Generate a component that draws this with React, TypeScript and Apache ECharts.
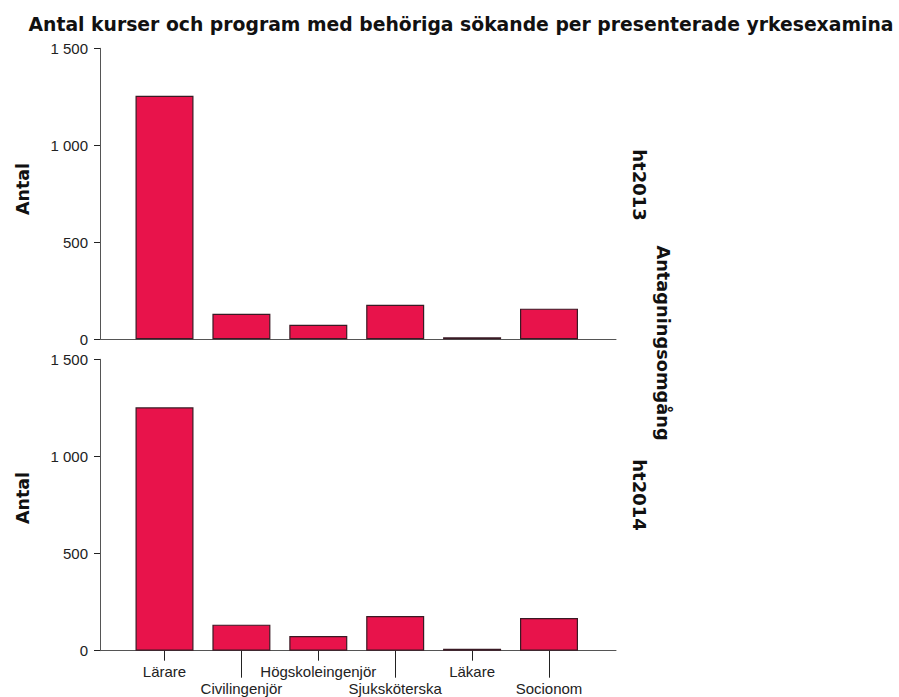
import React, { useEffect, useRef } from "react";
import * as echarts from "echarts";

const titleText = "Antal kurser och program med behöriga sökande per presenterade yrkesexamina";
const categories = ["Lärare", "Civilingenjör", "Högskoleingenjör", "Sjuksköterska", "Läkare", "Socionom"];
const valuesHt2013 = [1255, 132, 75, 178, 10, 158];
const valuesHt2014 = [1253, 134, 76, 179, 10, 168];
const panelNames = ["ht2013", "ht2014"];
const yAxisName = "Antal";
const facetName = "Antagningsomgång";
const yMin = 0;
const yMax = 1500;
const yInterval = 500;

const W = 899;
const H = 697;
const LINE_LEFT = 100;
const LINE_RIGHT_X = 616;
const BAR_LEFT = 164.5;
const BAR_RIGHT_X = 549;
const PANELS = [
  { top: 48.3, height: 291 },
  { top: 359.3, height: 291.4 },
];

const BAR_COLOR = "#e8134b";
const BAR_BORDER = "#3a1a24";
const AXIS_COLOR = "#555555";
const FONT = "'Liberation Sans', Arial, sans-serif";
const BOLD_FONT = "'DejaVu Sans', sans-serif";

function fmt(v: number): string {
  const s = String(Math.round(v));
  return s.replace(/\B(?=(\d{3})+(?!\d))/g, " ");
}

export default function App() {
  const ref = useRef<HTMLDivElement>(null);
  useEffect(() => {
    if (!ref.current) return;
    const chart = echarts.init(ref.current, null, { renderer: "svg" });
    const grids: any[] = [];
    const xAxes: any[] = [];
    const yAxes: any[] = [];
    const series: any[] = [];
    const seriesData = [valuesHt2013, valuesHt2014];

    PANELS.forEach((p, i) => {
      const isBottom = i === PANELS.length - 1;
      const lineGridIdx = grids.length;
      grids.push({ left: LINE_LEFT, right: W - LINE_RIGHT_X, top: p.top, height: p.height, containLabel: false });
      const barGridIdx = grids.length;
      grids.push({ left: BAR_LEFT, right: W - BAR_RIGHT_X, top: p.top, height: p.height, containLabel: false });

      xAxes.push({
        gridIndex: lineGridIdx,
        type: "value",
        min: 0,
        max: 1,
        axisLine: { show: true, onZero: false, lineStyle: { color: AXIS_COLOR, width: 1 } },
        axisTick: { show: false },
        axisLabel: { show: false },
        splitLine: { show: false },
      });
      yAxes.push({
        gridIndex: lineGridIdx,
        type: "value",
        min: yMin,
        max: yMax,
        interval: yInterval,
        axisLine: { show: true, lineStyle: { color: AXIS_COLOR, width: 1 } },
        axisTick: { show: true, length: 6, lineStyle: { color: "#222", width: 1 } },
        axisLabel: {
          show: true,
          margin: 12,
          color: "#222",
          fontFamily: FONT,
          fontSize: 15,
          formatter: (v: number) => fmt(v),
        },
        splitLine: { show: false },
      });

      const yIdx = yAxes.length;
      yAxes.push({
        gridIndex: barGridIdx,
        type: "value",
        min: yMin,
        max: yMax,
        interval: yInterval,
        show: false,
      });
      const xIdx = xAxes.length;
      if (!isBottom) {
        xAxes.push({
          gridIndex: barGridIdx,
          type: "category",
          data: categories,
          boundaryGap: false,
          axisLine: { show: false },
          axisTick: { show: false },
          axisLabel: { show: false },
          splitLine: { show: false },
        });
      } else {
        xAxes.push({
          gridIndex: barGridIdx,
          type: "category",
          data: categories,
          boundaryGap: false,
          position: "bottom",
          axisLine: { show: false },
          axisTick: {
            show: true,
            length: 10,
            interval: (idx: number) => idx % 2 === 0,
            lineStyle: { color: "#222", width: 1 },
          },
          axisLabel: {
            show: true,
            interval: (idx: number) => idx % 2 === 0,
            margin: 13,
            color: "#222",
            fontFamily: FONT,
            fontSize: 15,
          },
          splitLine: { show: false },
        });
        xAxes.push({
          gridIndex: barGridIdx,
          type: "category",
          data: categories,
          boundaryGap: false,
          position: "bottom",
          axisLine: { show: false },
          axisTick: {
            show: true,
            length: 27,
            interval: (idx: number) => idx % 2 === 1,
            lineStyle: { color: "#222", width: 1 },
          },
          axisLabel: {
            show: true,
            interval: (idx: number) => idx % 2 === 1,
            margin: 30,
            color: "#222",
            fontFamily: FONT,
            fontSize: 15,
          },
          splitLine: { show: false },
        });
      }
      series.push({
        type: "bar",
        name: panelNames[i],
        xAxisIndex: xIdx,
        yAxisIndex: yIdx,
        data: seriesData[i],
        barWidth: 58,
        itemStyle: { color: BAR_COLOR, borderColor: BAR_BORDER, borderWidth: 1.2 },
        z: 3,
      });
    });

    const boldText = (text: string, x: number, y: number, rotation: number, size: number) => ({
      type: "text",
      x,
      y,
      rotation,
      style: {
        text,
        align: "center",
        verticalAlign: "middle",
        font: `bold ${size}px ${BOLD_FONT}`,
        fill: "#111",
      },
    });

    const graphic: any[] = [
      boldText(titleText, 461, 24, 0, 18.8),
      boldText(yAxisName, 23, 189, Math.PI / 2, 17.5),
      boldText(yAxisName, 23, 498, Math.PI / 2, 17.5),
      boldText(panelNames[0], 639, 185, -Math.PI / 2, 18),
      boldText(panelNames[1], 639, 495, -Math.PI / 2, 18),
      boldText(facetName, 663, 343, -Math.PI / 2, 17.8),
    ];

    chart.setOption({
      animation: false,
      backgroundColor: "#ffffff",
      grid: grids,
      xAxis: xAxes,
      yAxis: yAxes,
      series,
      graphic,
    });
    return () => chart.dispose();
  }, []);
  return (
    <div
      ref={ref}
      style={{ position: "fixed", left: 0, top: 0, width: W, height: H, background: "#fff" }}
    />
  );
}
